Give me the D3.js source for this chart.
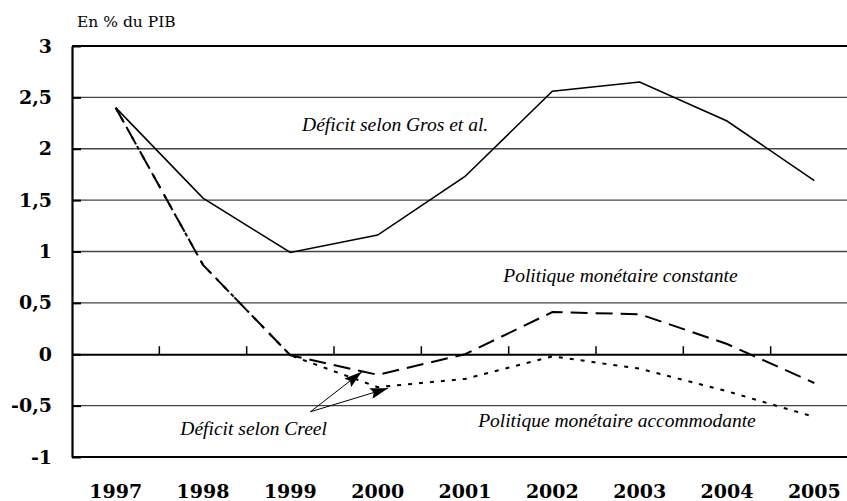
<!DOCTYPE html>
<html>
<head>
<meta charset="utf-8">
<script src="https://cdn.jsdelivr.net/npm/d3@7"></script>
<style>
    body { margin: 0; background: #fff; }
    svg { display: block; }
</style>
</head>
<body>
<div class="chart__container"></div>
<script>
//data
const YEARS = ["1997", "1998", "1999", "2000", "2001", "2002", "2003", "2004", "2005"];
const GROS = [2.4, 1.52, 0.99, 1.16, 1.73, 2.56, 2.65, 2.27, 1.69];
const CONSTANTE = [2.4, 0.87, -0.01, -0.2, 0.0, 0.41, 0.39, 0.1, -0.28];
const ACCOMMODANTE = [2.4, 0.87, -0.01, -0.32, -0.24, -0.02, -0.14, -0.36, -0.61];
const Y_TICKS = [-1, -0.5, 0, 0.5, 1, 1.5, 2, 2.5, 3];
const UNIT_LABEL = "En % du PIB";

const CHART__WIDTH = 847;
const CHART__HEIGHT = 501;

const PLOT = { left: 72, right: 858, top: 46, bottom: 457 };

/*-----------------------------------scales-----------------------------------*/

const xBand = d3.scaleBand().domain(YEARS).range([PLOT.left, PLOT.right]);
const half = xBand.bandwidth() / 2;
// index scale, used for lines and annotations (fractional index allowed)
const xIndex = d3.scaleLinear()
    .domain([0, YEARS.length - 1])
    .range([xBand(YEARS[0]) + half, xBand(YEARS[YEARS.length - 1]) + half]);
const yScale = d3.scaleLinear().domain([-1, 3]).range([PLOT.bottom, PLOT.top]);

// french decimal comma, plain hyphen for negatives
const frFormat = d => String(d).replace(".", ",");

/*-----------------------------------svg-----------------------------------*/

const svg = d3.select(".chart__container").append("svg")
    .attr("width", CHART__WIDTH)
    .attr("height", CHART__HEIGHT);

const defs = svg.append("defs");
defs.append("marker")
    .attr("id", "arrow")
    .attr("markerUnits", "userSpaceOnUse")
    .attr("viewBox", "0 0 18 11")
    .attr("refX", 18)
    .attr("refY", 5.5)
    .attr("markerWidth", 18)
    .attr("markerHeight", 11)
    .attr("orient", "auto")
    .append("path")
    .attr("d", "M0,0 L18,5.5 L0,11 L3,5.5 Z")
    .attr("fill", "#000");

//gridlines
svg.append("g")
    .selectAll("line")
    .data(Y_TICKS.filter(d => d !== 0 && d !== -1 && d !== 3))
    .enter()
    .append("line")
    .attr("x1", PLOT.left)
    .attr("x2", CHART__WIDTH)
    .attr("y1", d => yScale(d))
    .attr("y2", d => yScale(d))
    .attr("stroke", "#444")
    .attr("stroke-width", 1.3);

//frame top and bottom
svg.append("g")
    .selectAll("line")
    .data([3, -1])
    .enter()
    .append("line")
    .attr("x1", PLOT.left)
    .attr("x2", CHART__WIDTH)
    .attr("y1", d => yScale(d))
    .attr("y2", d => yScale(d))
    .attr("stroke", "#000")
    .attr("stroke-width", 2);

//y-axis
const ordinate = d3.axisLeft(yScale)
    .tickValues(Y_TICKS)
    .tickFormat(d => frFormat(d))
    .tickSizeInner(-9)
    .tickSizeOuter(0)
    .tickPadding(20);
const yAxis = svg.append("g")
    .attr("transform", `translate(${PLOT.left},0)`)
    .call(ordinate);
yAxis.select(".domain").attr("stroke", "#000").attr("stroke-width", 2.2);
yAxis.selectAll(".tick line").attr("stroke", "#000").attr("stroke-width", 2);
yAxis.selectAll(".tick text")
    .attr("font-family", "DejaVu Serif")
    .attr("font-weight", "bold")
    .attr("font-size", 19)
    .attr("fill", "#000");

//zero line with category ticks (x-axis)
const abscissa = d3.axisBottom(xBand)
    .tickSize(0)
    .tickPadding(0);
const xAxis = svg.append("g")
    .attr("transform", `translate(0,${yScale(0)})`)
    .call(abscissa);
xAxis.select(".domain").attr("stroke", "#000").attr("stroke-width", 2);
xAxis.selectAll(".tick text")
    .attr("font-family", "DejaVu Serif")
    .attr("font-weight", "bold")
    .attr("font-size", 19)
    .attr("fill", "#000")
    .attr("dy", null)
    .attr("y", PLOT.bottom + 41 - yScale(0));

xAxis.selectAll(".boundary")
    .data(YEARS.slice(1))
    .enter()
    .append("line")
    .attr("class", "boundary")
    .attr("x1", d => xBand(d))
    .attr("x2", d => xBand(d))
    .attr("y1", 0)
    .attr("y2", -8)
    .attr("stroke", "#000")
    .attr("stroke-width", 1.5);

//series
const line = d3.line()
    .x((d, i) => xIndex(i))
    .y(d => yScale(d));

svg.append("path")
    .datum(ACCOMMODANTE)
    .attr("d", line)
    .attr("fill", "none")
    .attr("stroke", "#000")
    .attr("stroke-width", 2)
    .attr("stroke-dasharray", "4,7");

svg.append("path")
    .datum(CONSTANTE)
    .attr("d", line)
    .attr("fill", "none")
    .attr("stroke", "#000")
    .attr("stroke-width", 2)
    .attr("stroke-dasharray", "17,8");

svg.append("path")
    .datum(GROS)
    .attr("d", line)
    .attr("fill", "none")
    .attr("stroke", "#000")
    .attr("stroke-width", 1.6);

//unit label
svg.append("text")
    .attr("x", 77)
    .attr("y", 27)
    .attr("font-family", "DejaVu Serif")
    .attr("font-size", 15.5)
    .attr("fill", "#000")
    .text(UNIT_LABEL);

//annotations
const NOTES = [
    { text: "Déficit selon Gros et al.", i: 3.2, v: 2.17 },
    { text: "Politique monétaire constante", i: 5.78, v: 0.70 },
    { text: "Politique monétaire accommodante", i: 5.74, v: -0.71 },
    { text: "Déficit selon Creel", i: 1.58, v: -0.79 }
];

svg.append("g")
    .selectAll("text")
    .data(NOTES)
    .enter()
    .append("text")
    .attr("x", d => xIndex(d.i))
    .attr("y", d => yScale(d.v))
    .attr("text-anchor", "middle")
    .attr("font-family", "Liberation Serif")
    .attr("font-style", "italic")
    .attr("font-size", 19.5)
    .attr("fill", "#000")
    .text(d => d.text);

const ARROW_FROM = { i: 2.23, v: -0.56 };
const ARROW_TO = [{ i: 2.82, v: -0.17 }, { i: 3.12, v: -0.33 }];

svg.append("g")
    .selectAll("line")
    .data(ARROW_TO)
    .enter()
    .append("line")
    .attr("x1", xIndex(ARROW_FROM.i))
    .attr("y1", yScale(ARROW_FROM.v))
    .attr("x2", d => xIndex(d.i))
    .attr("y2", d => yScale(d.v))
    .attr("stroke", "#000")
    .attr("stroke-width", 1)
    .attr("marker-end", "url(#arrow)");
</script>
</body>
</html>
